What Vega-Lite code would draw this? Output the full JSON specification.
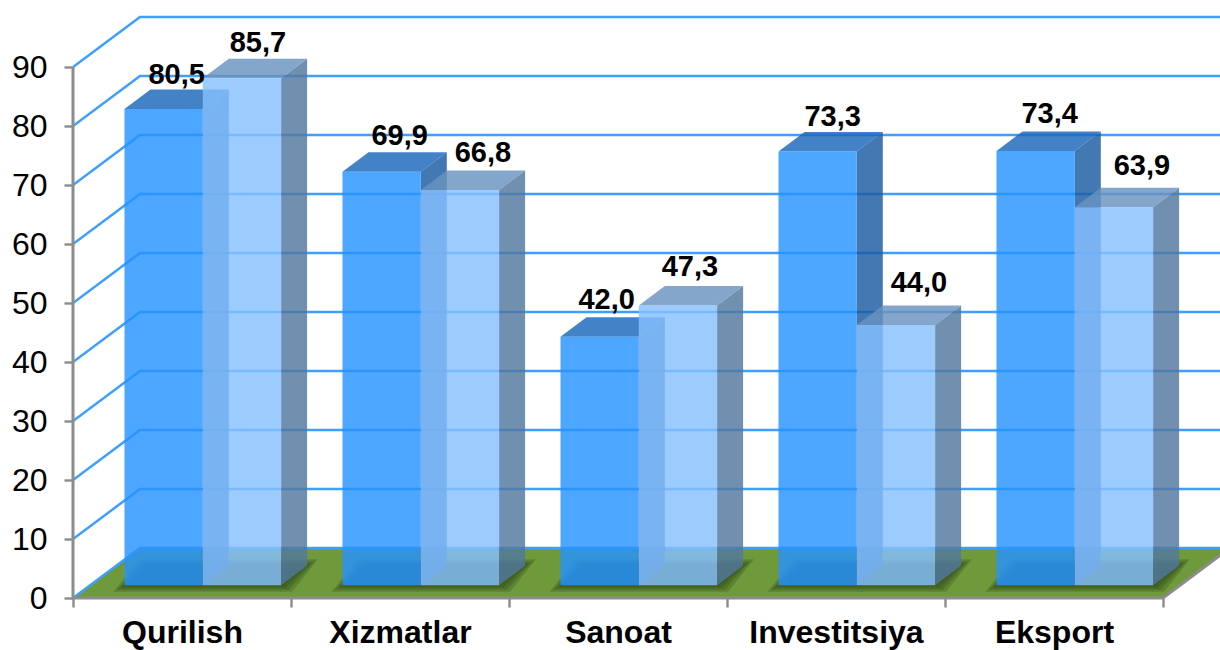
{"$schema":"https://vega.github.io/schema/vega-lite/v6.json","width":1147,"height":598,"autosize":"none","padding":{"left":73,"top":0,"right":0,"bottom":52},"background":"white","config":{"view":{"stroke":null},"font":"Liberation Sans","axis":{"title":null}},"layer":[
{"data":{"values":[{"part":"floor"}]},"transform":[{"calculate":"[{x:0,y:0,y2:0},{x:0.3073,y:0,y2:8.47},{x:5,y:0,y2:8.47},{x:5.3073,y:8.47,y2:8.47}]","as":"p"},{"flatten":["p"]}],"mark":{"type":"area","color":"#6f9a3c","clip":true},"encoding":{"x":{"field":"p.x","type":"quantitative","scale":{"domain":[0,5.2615],"nice":false},"axis":{"title":null,"values":[0,0.5,1,1.5,2,2.5,3,3.5,4,4.5,5],"grid":false,"domain":false,"tickSize":9,"tickWidth":2.4,"tickColor":"#8c8c8c","tickOpacity":{"condition":{"test":"datum.value % 1 == 0","value":1},"value":0},"labelExpr":"datum.value==0.5?'Qurilish':datum.value==1.5?'Xizmatlar':datum.value==2.5?'Sanoat':datum.value==3.5?'Investitsiya':datum.value==4.5?'Eksport':''","labelFont":"Liberation Sans","labelFontWeight":"bold","labelFontSize":32,"labelColor":"black","labelOverlap":false,"labelFlush":false,"labelPadding":10}},"y":{"field":"p.y","type":"quantitative","scale":{"domain":[0,101.356],"nice":false},"axis":{"title":null,"values":[0,10,20,30,40,50,60,70,80,90],"grid":false,"domain":false,"tickSize":9,"tickWidth":2.4,"tickColor":"#8c8c8c","labelFont":"Liberation Sans","labelFontSize":32,"labelColor":"black","labelPadding":17}},"y2":{"field":"p.y2"}}},
{"data":{"values":[{"tick":0},{"tick":10},{"tick":20},{"tick":30},{"tick":40},{"tick":50},{"tick":60},{"tick":70},{"tick":80},{"tick":90}]},"transform":[{"calculate":"[{x:0,y:datum.tick},{x:0.3073,y:datum.tick+8.47},{x:5.3073,y:datum.tick+8.47}]","as":"p"},{"flatten":["p"]}],"mark":{"type":"line","color":"#3d9fff","strokeWidth":2.5,"clip":true},"encoding":{"x":{"field":"p.x","type":"quantitative","scale":{"domain":[0,5.2615],"nice":false}},"y":{"field":"p.y","type":"quantitative","scale":{"domain":[0,101.356],"nice":false}},"detail":{"field":"tick"}}},
{"data":{"values":[{"part":"axis line"}]},"transform":[{"calculate":"[{k:0,x:0,y:90},{k:1,x:0,y:0},{k:2,x:5,y:0},{k:3,x:5.3073,y:8.47}]","as":"p"},{"flatten":["p"]}],"mark":{"type":"line","color":"#8c8c8c","strokeWidth":3},"encoding":{"x":{"field":"p.x","type":"quantitative","scale":{"domain":[0,5.2615],"nice":false}},"y":{"field":"p.y","type":"quantitative","scale":{"domain":[0,101.356],"nice":false}},"order":{"field":"p.k","type":"quantitative"}}},
{"data":{"values":[{"category":"Qurilish","series":1,"value":80.5},{"category":"Qurilish","series":2,"value":85.7},{"category":"Xizmatlar","series":1,"value":69.9},{"category":"Xizmatlar","series":2,"value":66.8},{"category":"Sanoat","series":1,"value":42.0},{"category":"Sanoat","series":2,"value":47.3},{"category":"Investitsiya","series":1,"value":73.3},{"category":"Investitsiya","series":2,"value":44.0},{"category":"Eksport","series":1,"value":73.4},{"category":"Eksport","series":2,"value":63.9}]},
"transform":[{"calculate":"indexof(['Qurilish','Xizmatlar','Sanoat','Investitsiya','Eksport'],datum.category)","as":"idx"},{"calculate":"datum.idx+0.2362+(datum.series-1)*0.3592","as":"L"},{"calculate":"datum.L+0.3592","as":"R"},{"calculate":"2.15","as":"B"},{"calculate":"2.15+datum.value*1.003","as":"T"}],
"layer":[
{"transform":[{"filter":"datum.series==1"},{"calculate":"[0.05,0.035,0.02,0.008]","as":"e"},{"flatten":["e"]},{"calculate":"[{x:datum.L-datum.e,y:datum.B-datum.e*22,y2:datum.B-datum.e*22},{x:datum.L-datum.e+0.1193,y:datum.B-datum.e*22,y2:datum.B+3.3+datum.e*22},{x:datum.L+0.7184+datum.e,y:datum.B-datum.e*22,y2:datum.B+3.3+datum.e*22},{x:datum.L+0.7184+datum.e+0.1193,y:datum.B+3.3+datum.e*22,y2:datum.B+3.3+datum.e*22}]","as":"p"},{"flatten":["p"]}],"mark":{"type":"area","color":"#2c4515","opacity":0.27},"encoding":{"x":{"field":"p.x","type":"quantitative","scale":{"domain":[0,5.2615],"nice":false}},"y":{"field":"p.y","type":"quantitative","scale":{"domain":[0,101.356],"nice":false}},"y2":{"field":"p.y2"},"detail":[{"field":"category"},{"field":"e"}]}},
{"transform":[{"filter":"datum.series==1"},{"calculate":"[{x:datum.R,y:datum.B,y2:datum.T},{x:datum.R+0.1193,y:datum.B+3.3,y2:datum.T+3.3}]","as":"p"},{"flatten":["p"]}],"mark":{"type":"area","color":"#1b5aa1","opacity":0.82},"encoding":{"x":{"field":"p.x","type":"quantitative","scale":{"domain":[0,5.2615],"nice":false}},"y":{"field":"p.y","type":"quantitative","scale":{"domain":[0,101.356],"nice":false}},"y2":{"field":"p.y2"},"detail":{"field":"category"}}},
{"transform":[{"filter":"datum.series==1"},{"calculate":"[{x:datum.L,y:datum.T,y2:datum.T},{x:datum.L+0.1193,y:datum.T,y2:datum.T+3.3},{x:datum.R,y:datum.T,y2:datum.T+3.3},{x:datum.R+0.1193,y:datum.T+3.3,y2:datum.T+3.3}]","as":"p"},{"flatten":["p"]}],"mark":{"type":"area","color":"#1b67bc","opacity":0.82},"encoding":{"x":{"field":"p.x","type":"quantitative","scale":{"domain":[0,5.2615],"nice":false}},"y":{"field":"p.y","type":"quantitative","scale":{"domain":[0,101.356],"nice":false}},"y2":{"field":"p.y2"},"detail":{"field":"category"}}},
{"transform":[{"filter":"datum.series==1"}],"mark":{"type":"rect","color":"#2692ff","opacity":0.82},"encoding":{"x":{"field":"L","type":"quantitative","scale":{"domain":[0,5.2615],"nice":false}},"x2":{"field":"R"},"y":{"field":"B","type":"quantitative","scale":{"domain":[0,101.356],"nice":false}},"y2":{"field":"T"}}},
{"transform":[{"filter":"datum.series==2"},{"calculate":"[{x:datum.R,y:datum.B,y2:datum.T},{x:datum.R+0.1193,y:datum.B+3.3,y2:datum.T+3.3}]","as":"p"},{"flatten":["p"]}],"mark":{"type":"area","color":"#52789f","opacity":0.82},"encoding":{"x":{"field":"p.x","type":"quantitative","scale":{"domain":[0,5.2615],"nice":false}},"y":{"field":"p.y","type":"quantitative","scale":{"domain":[0,101.356],"nice":false}},"y2":{"field":"p.y2"},"detail":{"field":"category"}}},
{"transform":[{"filter":"datum.series==2"},{"calculate":"[{x:datum.L,y:datum.T,y2:datum.T},{x:datum.L+0.1193,y:datum.T,y2:datum.T+3.3},{x:datum.R,y:datum.T,y2:datum.T+3.3},{x:datum.R+0.1193,y:datum.T+3.3,y2:datum.T+3.3}]","as":"p"},{"flatten":["p"]}],"mark":{"type":"area","color":"#6992bf","opacity":0.82},"encoding":{"x":{"field":"p.x","type":"quantitative","scale":{"domain":[0,5.2615],"nice":false}},"y":{"field":"p.y","type":"quantitative","scale":{"domain":[0,101.356],"nice":false}},"y2":{"field":"p.y2"},"detail":{"field":"category"}}},
{"transform":[{"filter":"datum.series==2"}],"mark":{"type":"rect","color":"#85c0ff","opacity":0.82},"encoding":{"x":{"field":"L","type":"quantitative","scale":{"domain":[0,5.2615],"nice":false}},"x2":{"field":"R"},"y":{"field":"B","type":"quantitative","scale":{"domain":[0,101.356],"nice":false}},"y2":{"field":"T"}}},
{"transform":[{"calculate":"replace(format(datum.value,'.1f'),'.',',')","as":"label"},{"calculate":"datum.idx*2+datum.series-1","as":"n"},{"calculate":"datum.L+(0.3592+0.1193)/2+[0,3,5,10,-6,-1,2,10,1,15][datum.n]/218","as":"lx"},{"calculate":"datum.T+3.3+(7+[-2,0,0,2,1,3,-1,6,1,6][datum.n])/5.9","as":"ly"}],"mark":{"type":"text","font":"Liberation Sans","fontWeight":"bold","fontSize":29,"color":"black","align":"center","baseline":"alphabetic"},"encoding":{"x":{"field":"lx","type":"quantitative","scale":{"domain":[0,5.2615],"nice":false}},"y":{"field":"ly","type":"quantitative","scale":{"domain":[0,101.356],"nice":false}},"text":{"field":"label"}}}
]}
]}
